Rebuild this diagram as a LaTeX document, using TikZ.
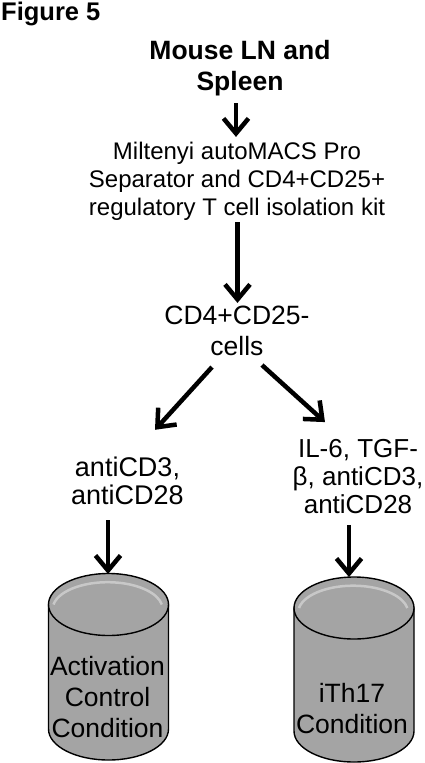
\documentclass[tikz,border=0pt]{standalone}
\usepackage{fontspec}
\setmainfont{Liberation Sans}
\usepackage{tikz}
\usetikzlibrary{arrows.meta, positioning, calc}
\definecolor{tankgray}{HTML}{A4A4A4}
\definecolor{tankrim}{HTML}{C8C8C8}
\tikzset{
  arr/.style={-{Straight Barb[length=15pt, width=25pt]}, line width=4.5pt, black},
  steptext/.style={align=center, inner sep=0pt, font=\fontsize{26.5}{31}\selectfont},
  headtext/.style={align=center, inner sep=0pt, font=\fontsize{26.5}{31}\selectfont\bfseries},
  tank/.style={fill=tankgray, draw=black, line width=1.4pt},
}
\begin{document}
\begin{tikzpicture}[x=1pt, y=-1pt]
  \useasboundingbox (0,0) rectangle (424,763);

  % Title and source
  \node[anchor=base west, inner sep=0pt, font=\fontsize{25.5}{30}\selectfont\bfseries] (fig) at (1,20) {Figure 5};
  \node[headtext] (src) at (240,68.6) {Mouse LN and\\Spleen};

  % Isolation step
  \node[steptext, font=\fontsize{24}{28}\selectfont] (kit) at (237,180.8) {Miltenyi autoMACS Pro\\Separator and CD4+CD25+\\regulatory T cell isolation kit};
  \node[steptext] (cells) at (237,331) {CD4+CD25-\\cells};

  % Stimulation
  \node[steptext, font=\fontsize{27}{28}\selectfont] (stimA) at (127.5,481.2) {antiCD3,\\antiCD28};
  \node[steptext, font=\fontsize{26}{28}\selectfont] (stimB) at (358,476.5) {IL-6, TGF-\\β, antiCD3,\\antiCD28};

  % Culture tanks
  \foreach \cx/\ctop/\cbot in {108.5/604.5/729, 354/608/731} {
    \path[tank] (\cx-60,\ctop) -- (\cx-60,\cbot) arc[start angle=180, end angle=360, x radius=60pt, y radius=31pt] -- (\cx+60,\ctop) -- cycle;
    \fill[tankgray] (\cx,\ctop) ellipse[x radius=60pt, y radius=31pt];
    \draw[tankrim, line width=2.5pt] (\cx,\ctop) ++(-55pt,0pt) arc[start angle=170, end angle=10, x radius=55pt, y radius=27pt];
    \draw[black, line width=1.4pt] (\cx,\ctop) ellipse[x radius=60pt, y radius=31pt];
  }
  \coordinate (tankA) at (108,574);
  \coordinate (tankB) at (349,577);
  \node[steptext] (condA) at (107.5,697.5) {Activation\\Control\\Condition};
  \node[steptext] (condB) at (352,709) {iTh17\\Condition};

  % Arrows
  \draw[arr] ($(src.south)+(-4,6.4)$) -- ($(kit.north)+(-1,-4.5)$);
  \draw[arr] ($(kit.south)+(0.5,2)$) -- ($(cells.north)+(0.5,-3)$);
  \draw[arr] ($(cells.south)+(-25,11)$) -- ($(stimA.north)+(27.5,-27.3)$);
  \draw[arr] ($(cells.south)+(25,9)$) -- ($(stimB.north)+(-33,-17)$);
  \draw[arr] ($(stimA.south)+(-19.5,15)$) -- (tankA);
  \draw[arr] ($(stimB.south)+(-9,11)$) -- (tankB);
\end{tikzpicture}
\end{document}
